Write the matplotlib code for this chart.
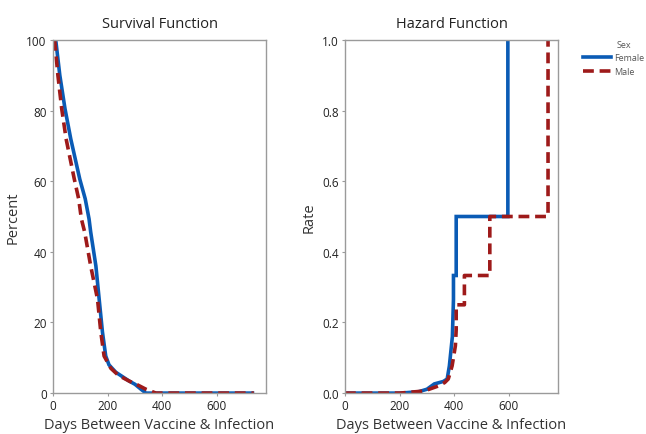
import matplotlib
matplotlib.use("Agg")
import matplotlib.pyplot as plt

# ---- data ----
surv_f_days = [10, 25, 44, 65, 98, 118, 132, 138, 157, 169, 181, 193, 205, 230, 279, 300, 322, 340, 730]
surv_f_pct  = [100, 90, 80.5, 72, 60.6, 55, 49.3, 45.6, 36, 26.6, 17.3, 10.5, 8, 5.9, 3.4, 2.5, 1.1, 0, 0]
surv_m_days = [6, 18, 32, 48, 78, 94, 104, 116, 138, 163, 175, 187, 212, 240, 279, 310, 340, 377, 735]
surv_m_pct  = [100, 90, 80.5, 72, 60.6, 55, 49.3, 45.6, 36, 26.6, 17.3, 10.5, 7, 5, 3.4, 2.3, 1.1, 0, 0]

haz_f_days = [0, 204, 270, 300, 327, 360, 374, 382, 393, 397, 397, 407, 407, 596, 596]
haz_f_rate = [0, 0, 0.004, 0.011, 0.026, 0.033, 0.04, 0.077, 0.16, 0.265, 0.333, 0.333, 0.5, 0.5, 1.0]
haz_m_days = [0, 200, 290, 341, 365, 378, 392, 404, 407, 407, 437, 437, 530, 530, 743, 743]
haz_m_rate = [0, 0, 0.006, 0.02, 0.03, 0.04, 0.077, 0.134, 0.18, 0.25, 0.25, 0.333, 0.333, 0.5, 0.5, 1.0]

series_names = ["Female", "Male"]
legend_title = "Sex"
x_ticks = [0, 200, 400, 600]

BLUE = "#0a5bb5"
RED = "#9e1a1a"

plt.rcParams['font.family'] = ['Open Sans', 'DejaVu Sans']

fig = plt.figure(figsize=(6.46, 4.35), dpi=100)
ax1 = fig.add_axes([0.082, 0.094, 0.330, 0.812])
ax2 = fig.add_axes([0.534, 0.094, 0.330, 0.812])

lw = 2.6
ax1.plot(surv_f_days, surv_f_pct, color=BLUE, lw=lw, solid_joinstyle='miter')
ax1.plot(surv_m_days, surv_m_pct, color=RED, lw=lw, ls=(0, (3, 1.6)))
l1, = ax2.plot(haz_f_days, haz_f_rate, color=BLUE, lw=lw, solid_joinstyle='miter')
l2, = ax2.plot(haz_m_days, haz_m_rate, color=RED, lw=lw, ls=(0, (3, 1.6)))

ax1.set_xlim(0, 780)
ax1.set_ylim(0, 100)
ax1.set_yticks([0, 20, 40, 60, 80, 100])
ax2.set_xlim(0, 780)
ax2.set_ylim(0, 1.0)
ax2.set_yticks([0.0, 0.2, 0.4, 0.6, 0.8, 1.0])
ax2.set_yticklabels(["0.0", "0.2", "0.4", "0.6", "0.8", "1.0"])

for ax, title, ylab in [(ax1, "Survival Function", "Percent"), (ax2, "Hazard Function", "Rate")]:
    ax.set_xticks(x_ticks)
    ax.set_title(title, fontsize=10.5, color="#222222", pad=9)
    ax.set_xlabel("Days Between Vaccine & Infection", fontsize=10.5, color="#333333", labelpad=3)
    ax.set_ylabel(ylab, fontsize=10.5, color="#333333", labelpad=4)
    for s in ax.spines.values():
        s.set_color("#9a9a9a")
        s.set_linewidth(1.0)
    ax.tick_params(axis='both', labelsize=8.5, colors="#9a9a9a", labelcolor="#222222",
                   length=2.5, width=0.8, pad=2)

leg = fig.legend([l1, l2], series_names, loc='upper left',
                 bbox_to_anchor=(583 / 646, 1 - 54 / 435), frameon=False, fontsize=6.5,
                 handlelength=3.1, handletextpad=0.35,
                 labelspacing=0.6, borderaxespad=0, borderpad=0)
for t in leg.get_texts():
    t.set_color("#555555")
fig.text(617 / 646, 1 - 45 / 435, legend_title, fontsize=6.5, color="#555555",
         ha='left', va='center')

fig.savefig("out.png", dpi=100)
